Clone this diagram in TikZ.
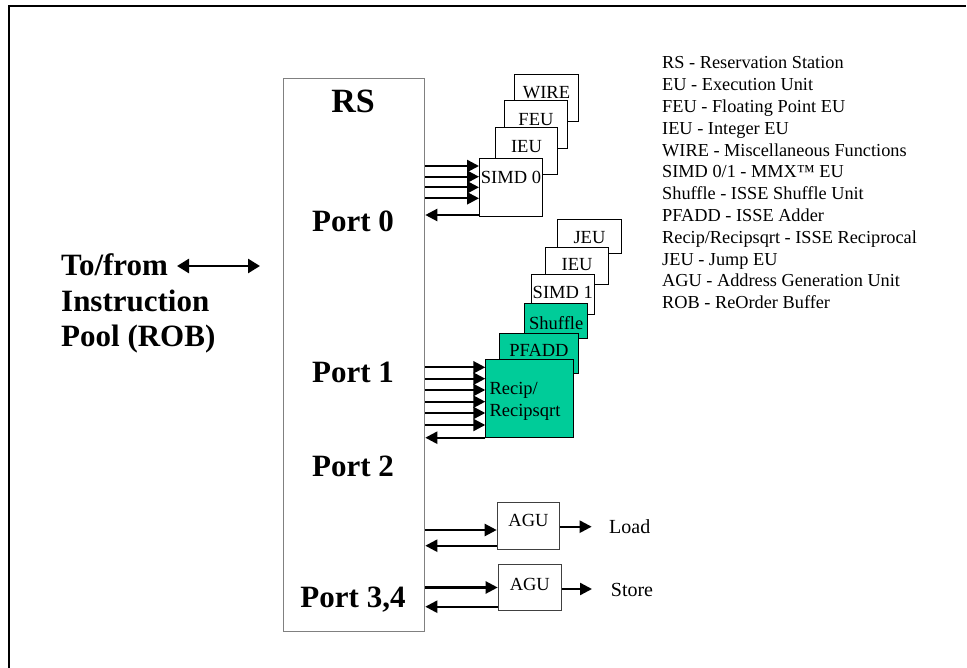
\documentclass[tikz,border=0pt]{standalone}
\usepackage{fontspec}
\setmainfont{Liberation Serif}
\usetikzlibrary{arrows.meta,calc}
\definecolor{unitgreen}{RGB}{0,204,153}
\begin{document}
\begin{tikzpicture}[x=1pt,y=-1pt,
  big/.style={font=\fontsize{31}{36}\selectfont\bfseries, inner sep=0pt},
  rstitle/.style={font=\fontsize{34}{40}\selectfont\bfseries, inner sep=0pt, anchor=base},
  portlbl/.style={big, anchor=base},
  unitbox/.style={draw=black, line width=0.9pt, fill=white, inner sep=0pt, anchor=north west},
  greenbox/.style={unitbox, fill=unitgreen},
  unitlbl/.style={font=\fontsize{18.5}{21}\selectfont, inner sep=0pt, anchor=base},
  legendtxt/.style={font=\fontsize{18.3}{21}\selectfont, inner sep=0pt, anchor=base west},
  iotxt/.style={font=\fontsize{20}{24}\selectfont, inner sep=0pt, anchor=base west},
  bus/.style={line width=2.3pt, -{Triangle[length=12pt,width=12pt]}},
  bigbus/.style={line width=2.6pt, {Triangle[length=12pt,width=14pt]}-{Triangle[length=12pt,width=14pt]}}
]
\useasboundingbox (0,0) rectangle (967,668);

% outer frame (left and top edges)
\draw[line width=2.7pt] (9,668) -- (9,6) -- (966,6);

% reservation station
\node[draw=gray, line width=1.3pt, minimum width=141pt, minimum height=553pt, inner sep=0pt, anchor=north west] (rs) at (283,78) {};
\node[rstitle] (rstxt) at (353,112.7) {RS};
\node[portlbl] (p0) at (353,232) {Port 0};
\node[portlbl] (p1) at (353,383) {Port 1};
\node[portlbl] (p2) at (353,476) {Port 2};
\node[portlbl] (p34) at (353,607) {Port 3,4};

% instruction pool side
\node[big, anchor=base west] (tofrom) at (61,276) {To/from};
\node[big, anchor=base west] (instr) at (61,311.5) {Instruction};
\node[big, anchor=base west] (pool) at (61,347) {Pool (ROB)};
\coordinate (poolL) at (177,266);
\coordinate (poolR) at (260,266);
\draw[bigbus] (poolL) -- (poolR);

% port 0 execution units, back to front
\node[unitbox, minimum width=64pt, minimum height=47pt] (wire) at (514,74) {};
\node[unitlbl] (wiretxt) at ($(wire.north)+(0,25)$) {WIRE};
\node[unitbox, minimum width=63pt, minimum height=48pt] (feu) at (504,100) {};
\node[unitlbl] (feutxt) at ($(feu.north)+(0,25.5)$) {FEU};
\node[unitbox, minimum width=62pt, minimum height=47pt] (ieu0) at (495,127) {};
\node[unitlbl] (ieu0txt) at ($(ieu0.north)+(0,25.5)$) {IEU};
\node[unitbox, minimum width=63pt, minimum height=58pt] (simd0) at (479,158) {};
\node[unitlbl] (simd0txt) at ($(simd0.north)+(0,25.5)$) {SIMD 0};

% port 1 execution units, back to front
\node[unitbox, minimum width=63.4pt, minimum height=34pt] (jeu) at (557.3,219.3) {};
\node[unitlbl] (jeutxt) at ($(jeu.north)+(0,24)$) {JEU};
\node[unitbox, minimum width=63.3pt, minimum height=36.7pt] (ieu1) at (545,247.3) {};
\node[unitlbl] (ieu1txt) at ($(ieu1.north)+(0,23.6)$) {IEU};
\node[unitbox, minimum width=63.3pt, minimum height=40pt] (simd1) at (530.7,274) {};
\node[unitlbl] (simd1txt) at ($(simd1.north)+(0,25)$) {SIMD 1};
\node[greenbox, minimum width=63pt, minimum height=35pt] (shuf) at (524.3,303.3) {};
\node[unitlbl] (shuftxt) at ($(shuf.north)+(0,26)$) {Shuffle};
\node[greenbox, minimum width=79.6pt, minimum height=40pt] (pfadd) at (498.7,333.3) {};
\node[unitlbl] (pfaddtxt) at ($(pfadd.north)+(0,22.7)$) {PFADD};
\node[greenbox, minimum width=87.4pt, minimum height=77.4pt] (recip) at (485.3,359.3) {};
\node[unitlbl, anchor=base west] (reciptxt) at (489.3,395) {Recip/};
\node[unitlbl, anchor=base west] (rsqrttxt) at (489.3,416.5) {Recipsqrt};

% address generation units
\node[unitbox, draw=black!75, minimum width=62.6pt, minimum height=47.3pt] (agu1) at (496.7,501.7) {};
\node[unitlbl] (agu1txt) at ($(agu1.north)+(0,25)$) {AGU};
\node[unitbox, draw=black!75, minimum width=63.3pt, minimum height=45.7pt] (agu2) at (497.7,564.3) {};
\node[unitlbl] (agu2txt) at ($(agu2.north)+(0,25.7)$) {AGU};
\coordinate (loadend) at (591.7,526.7);
\coordinate (storeend) at (592,589);
\node[iotxt] (load) at (609,533) {Load};
\node[iotxt] (store) at (610.7,596.7) {Store};

% dispatch buses
\foreach \y in {166,176.7,187.3,198.3}
  \draw[bus] (rs.east |- 0,\y) -- (simd0.west |- 0,\y);
\draw[bus] (simd0.west |- 0,215) -- (rs.east |- 0,215);

\foreach \y in {367.3,378.7,390,401.7,413,425}
  \draw[bus] (rs.east |- 0,\y) -- (recip.west |- 0,\y);
\draw[bus] (recip.west |- 0,437.7) -- (rs.east |- 0,437.7);

\draw[bus] (rs.east |- 0,530) -- (agu1.west |- 0,530);
\draw[bus] (agu1.west |- 0,545.7) -- (rs.east |- 0,545.7);
\draw[bus] (agu1.east |- loadend) -- (loadend);

\draw[bus] (rs.east |- 0,587.5) -- (agu2.west |- 0,587.5);
\draw[bus] (agu2.west |- 0,606.7) -- (rs.east |- 0,606.7);
\draw[bus] (agu2.east |- storeend) -- (storeend);

% legend
\foreach \t [count=\i from 0] in {RS - Reservation Station, EU - Execution Unit, FEU - Floating Point EU, IEU - Integer EU, WIRE - Miscellaneous Functions, SIMD 0/1 - MMX™ EU, Shuffle - ISSE Shuffle Unit, PFADD - ISSE Adder, Recip/Recipsqrt - ISSE Reciprocal, JEU - Jump EU, AGU - Address Generation Unit, ROB - ReOrder Buffer}
  \node[legendtxt] (leg\i) at (662,{68.9+21.8*\i}) {\t};
\end{tikzpicture}
\end{document}
